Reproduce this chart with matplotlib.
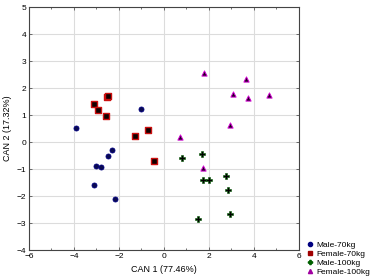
import matplotlib
matplotlib.use("Agg")
import matplotlib.pyplot as plt
from matplotlib.ticker import MultipleLocator

plt.rcParams['font.family'] = ['Liberation Sans', 'DejaVu Sans']

male70_x = [-3.92, -1.02, -2.31, -2.50, -3.02, -2.79, -3.12, -2.18]
male70_y = [0.53, 1.22, -0.30, -0.52, -0.89, -0.91, -1.59, -2.11]
female70_x = [-3.11, -2.92, -2.58, -2.53, -2.48, -1.30, -0.72, -0.46]
female70_y = [1.41, 1.17, 0.96, 1.68, 1.71, 0.21, 0.46, -0.69]
male100_x = [0.81, 1.67, 1.75, 1.98, 2.77, 2.83, 2.93, 1.53]
male100_y = [-0.60, -0.46, -1.42, -1.42, -1.26, -1.77, -2.68, -2.85]
female100_x = [0.70, 1.78, 3.66, 3.05, 3.72, 4.67, 2.92, 1.73]
female100_y = [0.17, 2.56, 2.34, 1.79, 1.64, 1.74, 0.64, -0.95]
labels = ["Male-70kg", "Female-70kg", "Male-100kg", "Female-100kg"]

fig = plt.figure(figsize=(3.73, 2.8), dpi=100)
ax = fig.add_axes([0.0777, 0.107, 0.7239, 0.868])

ax.scatter(male70_x, male70_y, marker='o', s=13, facecolor='#0a0a50', edgecolor='#000080', linewidth=0.6, zorder=3)
ax.scatter(female70_x, female70_y, marker='s', s=15, facecolor='#100000', edgecolor='#cc1010', linewidth=1.0, zorder=3)
ax.scatter(male100_x, male100_y, marker='P', s=14, facecolor='#000000', edgecolor='#006000', linewidth=0.4, zorder=3)
ax.scatter(female100_x, female100_y, marker='^', s=14, facecolor='#200020', edgecolor='#d000d0', linewidth=0.7, zorder=3)

ax.set_xlim(-6, 6)
ax.set_ylim(-4, 5)
ax.xaxis.set_major_locator(MultipleLocator(2))
ax.xaxis.set_minor_locator(MultipleLocator(1))
ax.yaxis.set_major_locator(MultipleLocator(1))
ax.grid(True, which='major', color='#dcdcdc', linewidth=0.8)
ax.set_axisbelow(True)
ax.tick_params(which='both', direction='in', top=True, right=True, labelsize=6, length=2, width=0.6, color='#555555', pad=2)
ax.tick_params(which='minor', length=1.5)
for s in ax.spines.values():
    s.set_linewidth(0.8)
    s.set_color('#444444')

ax.set_xlabel("CAN 1 (77.46%)", fontsize=6.5, labelpad=4)
ax.set_ylabel("CAN 2 (17.32%)", fontsize=6.5, labelpad=3)

handles = [
    plt.Line2D([], [], marker='o', ls='', color='#000080', markersize=3),
    plt.Line2D([], [], marker='s', ls='', color='#a00000', markersize=3),
    plt.Line2D([], [], marker='P', ls='', color='#006000', markersize=3),
    plt.Line2D([], [], marker='^', ls='', color='#a000a0', markersize=3),
]
fig.legend(handles, labels, loc='lower left', bbox_to_anchor=(0.81, 0.0), fontsize=6,
           frameon=False, handletextpad=0.2, labelspacing=0.15, handlelength=1.0, borderpad=0.3,
           borderaxespad=0.2)

fig.savefig("out.png", dpi=100)
